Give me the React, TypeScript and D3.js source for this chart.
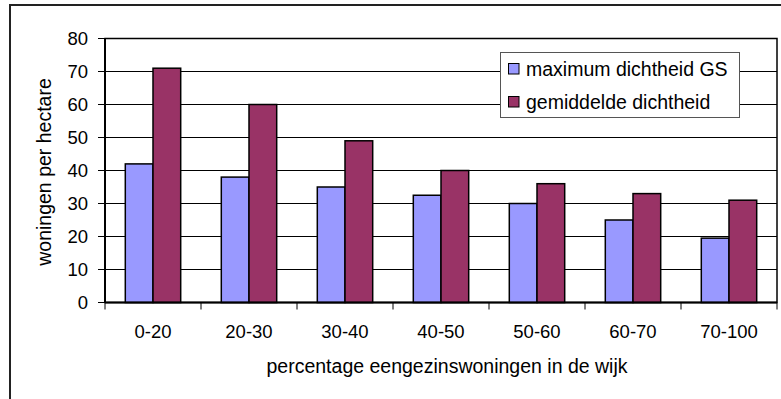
import React from "react";
import * as d3 from "d3";

const categories = ["0-20", "20-30", "30-40", "40-50", "50-60", "60-70", "70-100"];
const seriesNames = ["maximum dichtheid GS", "gemiddelde dichtheid"];
const maxDensity = [42, 38, 35, 32.5, 30, 25, 19.5];
const avgDensity = [71, 60, 49, 40, 36, 33, 31];
const yTicks = [0, 10, 20, 30, 40, 50, 60, 70, 80];
const colors = ["#9999FF", "#993366"];

const W = 781;
const H = 399;
const plot = { left: 105, top: 38.5, right: 777, bottom: 302.5 };
const FONT = "'Liberation Sans', Arial, sans-serif";

export default function App() {
  const x = d3.scaleBand<string>().domain(categories).range([plot.left, plot.right]).paddingInner(0).paddingOuter(0);
  const inner = d3.scaleBand<string>().domain(["0", "1"]).range([0, x.bandwidth()]).paddingOuter(0.733).paddingInner(0);
  const y = d3.scaleLinear().domain([0, 80]).range([plot.bottom, plot.top]);
  const series = [maxDensity, avgDensity];

  return (
    <svg width={W} height={H} style={{ position: "absolute", left: 0, top: 0, background: "#fff" }} fontFamily={FONT}>
      <rect x={10} y={5} width={900} height={500} fill="#fff" stroke="#222" strokeWidth={2} />
      <rect x={plot.left} y={plot.top} width={plot.right - plot.left} height={plot.bottom - plot.top} fill="#fff" />
      {yTicks.map((t) => (
        <g key={t}>
          {t > 0 && t < 80 && (
            <line x1={plot.left} x2={plot.right} y1={y(t)} y2={y(t)} stroke="#000" strokeWidth={1} />
          )}
          <line x1={plot.left - 7} x2={plot.left} y1={y(t)} y2={y(t)} stroke="#000" strokeWidth={1} />
          <text x={88} y={y(t)} dy="0.35em" textAnchor="end" fontSize={18.5} fill="#000">{t}</text>
        </g>
      ))}
      <rect x={plot.left} y={plot.top} width={plot.right - plot.left} height={plot.bottom - plot.top} fill="none" stroke="#000" strokeWidth={1.5} />
      {categories.map((c, i) => (
        <g key={c}>
          {series.map((s, k) => (
            <rect
              key={k}
              x={(x(c) as number) + (inner(String(k)) as number)}
              y={y(s[i])}
              width={inner.bandwidth()}
              height={y(0) - y(s[i])}
              fill={colors[k]}
              stroke="#000"
              strokeWidth={1.5}
            />
          ))}
          <text x={(x(c) as number) + x.bandwidth() / 2} y={331.7} dy="0.35em" textAnchor="middle" fontSize={18.5} fill="#000">{c}</text>
        </g>
      ))}
      {categories.concat([""]).map((_, i) => {
        const xx = plot.left + i * x.bandwidth();
        return <line key={i} x1={xx} x2={xx} y1={plot.bottom} y2={plot.bottom + 7} stroke="#000" strokeWidth={1} />;
      })}
      <line x1={plot.left} x2={plot.right} y1={plot.bottom} y2={plot.bottom} stroke="#000" strokeWidth={2} />
      <line x1={plot.left} x2={plot.left} y1={plot.top} y2={plot.bottom} stroke="#000" strokeWidth={2} />
      <text x={447} y={366} dy="0.35em" textAnchor="middle" fontSize={19.5} fill="#000">percentage eengezinswoningen in de wijk</text>
      <text transform={`translate(44,172) rotate(-90)`} dy="0.35em" textAnchor="middle" fontSize={19.5} fill="#000">woningen per hectare</text>
      <g>
        <rect x={500.5} y={52.5} width={239} height={65} fill="#fff" stroke="#555" strokeWidth={1} />
        {seriesNames.map((n, k) => (
          <g key={n}>
            <rect x={508.5} y={63.5 + k * 33} width={10.5} height={10.5} fill={colors[k]} stroke="#000" strokeWidth={1} />
            <text x={526} y={69 + k * 33} dy="0.35em" fontSize={19.5} fill="#000">{n}</text>
          </g>
        ))}
      </g>
    </svg>
  );
}
